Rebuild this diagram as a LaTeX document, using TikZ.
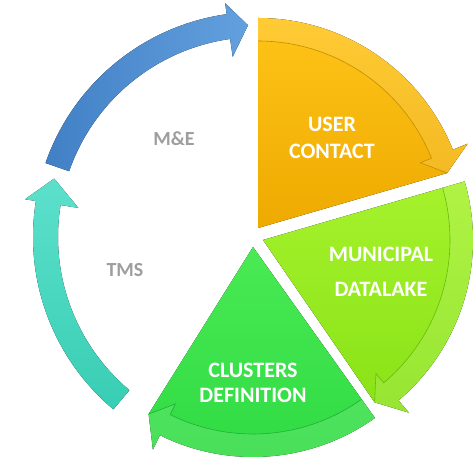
\documentclass[tikz,border=0pt]{standalone}
\usepackage{fontspec}
\setmainfont{Carlito}
\usepackage{tikz}
\usetikzlibrary{calc}

\definecolor{contacttop}{RGB}{255,196,24}
\definecolor{contactbot}{RGB}{238,170,0}
\definecolor{contactedge}{RGB}{196,140,0}
\definecolor{laketop}{RGB}{166,242,44}
\definecolor{lakebot}{RGB}{136,226,22}
\definecolor{lakeedge}{RGB}{104,186,10}
\definecolor{clustertop}{RGB}{74,234,84}
\definecolor{clusterbot}{RGB}{46,218,66}
\definecolor{clusteredge}{RGB}{30,176,50}
\definecolor{tmstop}{RGB}{92,224,204}
\definecolor{tmsbot}{RGB}{56,206,180}
\definecolor{meleft}{RGB}{66,128,198}
\definecolor{meright}{RGB}{98,160,222}

% sector with an arrow along its rim: apex, start angle, end angle, fill, edge
\newcommand{\wedgearrow}[5]{%
\begin{scope}[shift={#1}]
\pgfmathsetmacro{\headangle}{#3+5.7}
\fill[#4] (0,0) -- (#2:210) arc[start angle=#2, end angle=\headangle, radius=210] -- (\headangle:226) -- (#3:197) -- cycle;
\fill[white, opacity=0.12] (#2:210) arc[start angle=#2, end angle=\headangle, radius=210] -- (\headangle:226) -- (#3:197) -- (\headangle:175) -- (\headangle:187) arc[start angle=\headangle, end angle=#2, radius=187] -- cycle;
\draw[#5, line width=0.6pt] (#2:187) arc[start angle=#2, end angle=\headangle, radius=187] -- (\headangle:175) -- (#3:197);
\end{scope}}

% curved arrow on the open side: tail angle, head angle, tip angle, fill
\newcommand{\looparrow}[4]{%
\fill[#4] (#1:200) arc[start angle=#1, end angle=#2, radius=200] -- (#2:182) -- (#3:212) -- (#2:236) -- (#2:225) arc[start angle=#2, end angle=#1, radius=225] -- cycle;}

\begin{document}
\begin{tikzpicture}[x=1pt, y=1pt,
phaselabel/.style = {text=white, font=\fontsize{22}{27}\selectfont\bfseries, align=center},
sidelabel/.style = {text=black!38, font=\fontsize{20}{24}\selectfont\bfseries},
contactfill/.style = {top color=contacttop, bottom color=contactbot},
lakefill/.style = {top color=laketop, bottom color=lakebot},
clusterfill/.style = {top color=clustertop, bottom color=clusterbot},
tmsfill/.style = {top color=tmstop, bottom color=tmsbot},
mefill/.style = {left color=meleft, right color=meright}
]
\useasboundingbox (0,0) rectangle (476,465);

\wedgearrow{(258,237)}{90}{16.2}{contactfill}{contactedge}
\wedgearrow{(263,225)}{16.2}{-55.5}{lakefill}{lakeedge}
\wedgearrow{(253,218)}{-54.5}{-122}{clusterfill}{clusteredge}

\begin{scope}[shift={(258,228)}]
\looparrow{230}{170.8}{164}{tmsfill}
\looparrow{160.8}{98}{92.7}{mefill}
\end{scope}

\node (contact)[phaselabel] at (332,327) {USER\\CONTACT};
\node (datalake)[phaselabel, font=\fontsize{22}{35}\selectfont\bfseries] at (381,193) {MUNICIPAL\\DATALAKE};
\node (clusters)[phaselabel, font=\fontsize{22}{25}\selectfont\bfseries] at (253,82) {CLUSTERS\\DEFINITION};
\node (me)[sidelabel] at (174,326) {M\&E};
\node (tms)[sidelabel] at (125,195) {TMS};

\end{tikzpicture}
\end{document}
